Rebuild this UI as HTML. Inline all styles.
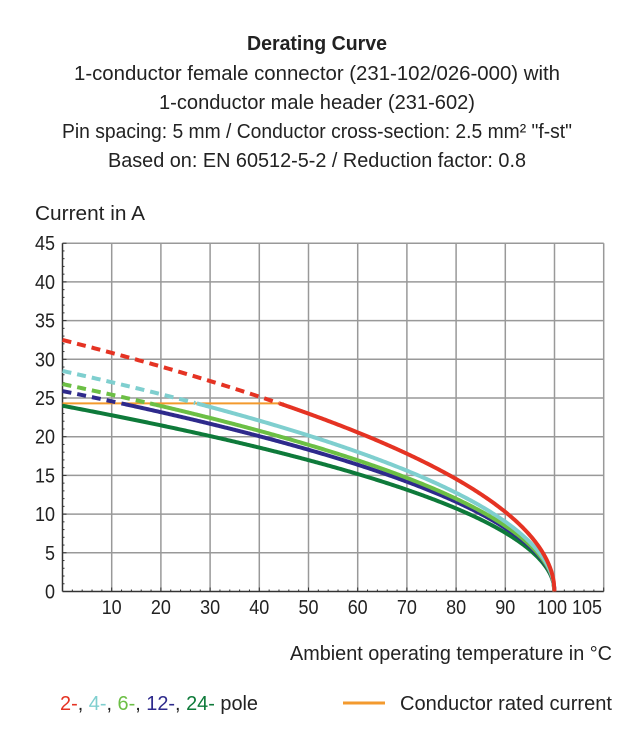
<!DOCTYPE html>
<html><head><meta charset="utf-8"><style>
html,body{margin:0;padding:0;background:#fff;}
svg text{font-family:"Liberation Sans Narrow","Liberation Sans",sans-serif;fill:#222;}
</style></head><body>
<svg id="s" width="634" height="742" xmlns="http://www.w3.org/2000/svg">
<text x="317" y="50" text-anchor="middle" font-size="20" font-weight="bold" textLength="140" lengthAdjust="spacingAndGlyphs">Derating Curve</text>
<text x="317" y="80" text-anchor="middle" font-size="20" textLength="486" lengthAdjust="spacingAndGlyphs">1-conductor female connector (231-102/026-000) with</text>
<text x="317" y="109" text-anchor="middle" font-size="20" textLength="316" lengthAdjust="spacingAndGlyphs">1-conductor male header (231-602)</text>
<text x="317" y="138" text-anchor="middle" font-size="20" textLength="510" lengthAdjust="spacingAndGlyphs">Pin spacing: 5 mm / Conductor cross-section: 2.5 mm² "f-st"</text>
<text x="317" y="167" text-anchor="middle" font-size="20" textLength="418" lengthAdjust="spacingAndGlyphs">Based on: EN 60512-5-2 / Reduction factor: 0.8</text>
<text x="35" y="220" font-size="20" textLength="110" lengthAdjust="spacingAndGlyphs">Current in A</text>
<text x="290" y="660" font-size="20" textLength="322" lengthAdjust="spacingAndGlyphs">Ambient operating temperature in °C</text>
<text x="60" y="710" font-size="20" textLength="198" lengthAdjust="spacingAndGlyphs"><tspan style="fill:#e53323">2-</tspan>, <tspan style="fill:#7fcfcf">4-</tspan>, <tspan style="fill:#6cbf45">6-</tspan>, <tspan style="fill:#2e2a8c">12-</tspan>, <tspan style="fill:#0e7a3a">24-</tspan> pole</text>
<line x1="343" y1="703" x2="385" y2="703" stroke="#f39a2e" stroke-width="3"/>
<text x="400" y="710" font-size="20" textLength="212" lengthAdjust="spacingAndGlyphs">Conductor rated current</text>
<g id="g"></g>
</svg>
<script>
var g=document.getElementById('g'),h='';
function X(t){return 62.5+t*49.2/10;}function Y(v){return 591.5-v*38.7/5;}
for(var t=10;t<=110;t+=10)h+='<line x1="'+X(t)+'" y1="'+Y(45)+'" x2="'+X(t)+'" y2="'+Y(0)+'" stroke="#999" stroke-width="1.5"/>';
for(var v=5;v<=45;v+=5)h+='<line x1="'+X(0)+'" y1="'+Y(v)+'" x2="'+X(110)+'" y2="'+Y(v)+'" stroke="#999" stroke-width="1.5"/>';
for(var v=0;v<=45;v++)h+='<line x1="'+X(0)+'" y1="'+Y(v)+'" x2="'+(X(0)+(v%5?2:4))+'" y2="'+Y(v)+'" stroke="#333" stroke-width="1"/>';
for(var t=0;t<=110;t+=2)h+='<line x1="'+X(t)+'" y1="'+Y(0)+'" x2="'+X(t)+'" y2="'+(Y(0)-(t%10?2:4))+'" stroke="#333" stroke-width="1"/>';
h+='<line x1="'+X(0)+'" y1="'+Y(45)+'" x2="'+X(0)+'" y2="'+Y(0)+'" stroke="#333" stroke-width="1.5"/>';
h+='<line x1="'+X(0)+'" y1="'+Y(0)+'" x2="'+X(110)+'" y2="'+Y(0)+'" stroke="#333" stroke-width="1.5"/>';
for(var v=0;v<=45;v+=5)h+='<text x="55" y="'+(Y(v)+7)+'" text-anchor="end" font-size="20" textLength="'+(v<10?10:20)+'" lengthAdjust="spacingAndGlyphs">'+v+'</text>';
for(var t=10;t<=90;t+=10)h+='<text x="'+X(t)+'" y="614" text-anchor="middle" font-size="20" textLength="20" lengthAdjust="spacingAndGlyphs">'+t+'</text>';
h+='<text x="552" y="614" text-anchor="middle" font-size="20" textLength="30" lengthAdjust="spacingAndGlyphs">100</text>';
h+='<text x="587" y="614" text-anchor="middle" font-size="20" textLength="30" lengthAdjust="spacingAndGlyphs">105</text>';
h+='<line x1="'+X(0)+'" y1="'+Y(24.3)+'" x2="'+X(45)+'" y2="'+Y(24.3)+'" stroke="#f39a2e" stroke-width="2"/>';
var S=[[24,'#0e7a3a'],[25.9,'#2e2a8c'],[26.8,'#6cbf45'],[28.5,'#7fcfcf'],[32.5,'#e53323']];
S.forEach(function(s){var I=s[0],c=s[1];var tc=I>24.3?100*(1-Math.pow(24.3/I,2)):0;
 function f(t){return I*Math.sqrt(Math.max(0,1-t/100));}
 if(tc>0){var d='M'+X(0)+' '+Y(f(0));for(var t=0.5;t<=tc;t+=0.5)d+=' L'+X(t)+' '+Y(f(t));
  h+='<path d="'+d+'" fill="none" stroke="'+c+'" stroke-width="4" stroke-dasharray="9,6"/>';}
 var d='M'+X(tc)+' '+Y(f(tc));for(var t=tc;t<=100;t+=0.25)d+=' L'+X(t)+' '+Y(f(t));d+=' L'+X(100)+' '+Y(0);
 h+='<path d="'+d+'" fill="none" stroke="'+c+'" stroke-width="4"/>';});
g.innerHTML=h;
</script>
</body></html>
